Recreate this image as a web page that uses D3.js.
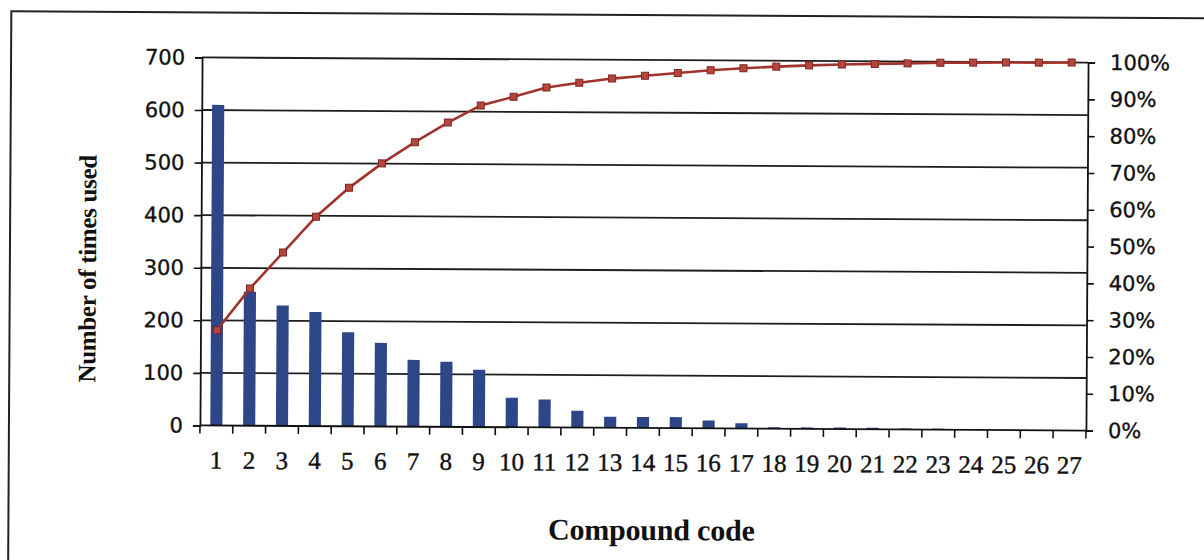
<!DOCTYPE html>
<html>
<head>
<meta charset="utf-8">
<script src="https://cdn.jsdelivr.net/npm/d3@7"></script>
<style>
  html, body { margin: 0; padding: 0; background: #fff; }
  svg { display: block; }
</style>
</head>
<body>
<svg id="chart" width="1204" height="560"></svg>
<script>
// Compound usage: counts per compound and cumulative share
const categories = ["1","2","3","4","5","6","7","8","9","10","11","12","13","14",
                    "15","16","17","18","19","20","21","22","23","24","25","26","27"];
const counts = [610, 255, 229, 217, 179, 159, 127, 124, 109, 56, 53, 32, 21, 21,
                21, 15, 10, 3, 3, 3, 3, 2, 2, 0, 0, 0, 0];
const cumulativePct = [25.9, 37.3, 47.1, 56.9, 64.8, 71.5, 77.3, 82.7, 87.4, 89.8, 92.4, 93.7, 94.9, 95.7,
                       96.5, 97.3, 97.9, 98.4, 98.8, 99.1, 99.3, 99.5, 99.7, 99.8, 99.9, 99.9, 100];
const leftTicks = [0, 100, 200, 300, 400, 500, 600, 700];
const rightTicks = [0, 10, 20, 30, 40, 50, 60, 70, 80, 90, 100];

const svg = d3.select("#chart");
// slight clockwise tilt of the whole figure
const root = svg.append("g").attr("transform", "rotate(0.33 644 245)");

// outer frame
root.append("rect")
  .attr("x", 10).attr("y", 15).attr("width", 1240).attr("height", 600)
  .attr("fill", "none").attr("stroke", "#222").attr("stroke-width", 2);

const plot = { left: 201, right: 1087, top: 60, bottom: 428 };

const x = d3.scaleBand().domain(categories).range([plot.left, plot.right]).padding(0);
const yL = d3.scaleLinear().domain([0, 700]).range([plot.bottom, plot.top]);
const yR = d3.scaleLinear().domain([0, 100]).range([plot.bottom, plot.top]);

// horizontal gridlines
root.append("g").selectAll("line")
  .data(leftTicks.filter(d => d > 0))
  .join("line")
  .attr("x1", plot.left).attr("x2", plot.right)
  .attr("y1", d => yL(d)).attr("y2", d => yL(d))
  .attr("stroke", "#1e1e1e").attr("stroke-width", 1.8);

// bars
const barW = x.bandwidth() * 0.37;
root.append("g").selectAll("rect")
  .data(counts)
  .join("rect")
  .attr("x", (d, i) => x(categories[i]) + (x.bandwidth() - barW) / 2)
  .attr("y", d => yL(d))
  .attr("width", barW)
  .attr("height", d => yL(0) - yL(d))
  .attr("fill", "#2c4688");

// tick label styling shared by both value axes
function styleValueAxis(g) {
  g.select(".domain").attr("stroke", "#111").attr("stroke-width", 1.8);
  g.selectAll(".tick line").attr("stroke", "#111").attr("stroke-width", 1.6);
  g.selectAll("text")
    .attr("font-family", "DejaVu Sans").attr("font-size", 21)
    .attr("fill", "#111").attr("stroke", "#111").attr("stroke-width", 0.35);
}

// left axis
root.append("g")
  .attr("transform", `translate(${plot.left},0)`)
  .call(d3.axisLeft(yL).tickValues(leftTicks).tickSize(7).tickPadding(10).tickFormat(d3.format("d")))
  .call(styleValueAxis);

// right axis
root.append("g")
  .attr("transform", `translate(${plot.right},0)`)
  .call(d3.axisRight(yR).tickValues(rightTicks).tickSize(7).tickPadding(15).tickFormat(d => d + "%"))
  .call(styleValueAxis);

// category axis: baseline, boundary ticks and centred labels
root.append("line")
  .attr("x1", plot.left).attr("x2", plot.right)
  .attr("y1", yL(0)).attr("y2", yL(0))
  .attr("stroke", "#111").attr("stroke-width", 1.8);

const boundaries = categories.map(c => x(c)).concat([x(categories[categories.length - 1]) + x.bandwidth()]);
root.append("g").selectAll("line")
  .data(boundaries)
  .join("line")
  .attr("x1", d => d).attr("x2", d => d)
  .attr("y1", yL(0)).attr("y2", yL(0) + 8)
  .attr("stroke", "#111").attr("stroke-width", 1.6);

root.append("g").selectAll("text")
  .data(categories)
  .join("text")
  .attr("x", d => x(d) + x.bandwidth() / 2)
  .attr("y", 471)
  .attr("text-anchor", "middle")
  .attr("font-family", "Liberation Serif")
  .attr("font-size", 25)
  .attr("fill", "#111").attr("stroke", "#111").attr("stroke-width", 0.4)
  .text(d => d);

// cumulative percentage line with square markers
const line = d3.line()
  .x((d, i) => x(categories[i]) + x.bandwidth() / 2)
  .y(d => yR(d));

root.append("path")
  .datum(cumulativePct)
  .attr("d", line)
  .attr("fill", "none")
  .attr("stroke", "#a1332d")
  .attr("stroke-width", 2.6);

const mk = 7;
root.append("g").selectAll("rect")
  .data(cumulativePct)
  .join("rect")
  .attr("x", (d, i) => x(categories[i]) + x.bandwidth() / 2 - mk / 2)
  .attr("y", d => yR(d) - mk / 2)
  .attr("width", mk).attr("height", mk)
  .attr("fill", "#b5463c")
  .attr("stroke", "#7e2622")
  .attr("stroke-width", 1);

// axis titles
root.append("text")
  .attr("x", 653).attr("y", 540)
  .attr("text-anchor", "middle")
  .attr("font-family", "Liberation Serif")
  .attr("font-weight", "bold")
  .attr("font-size", 30)
  .attr("letter-spacing", -0.2)
  .attr("fill", "#111")
  .text("Compound code");

root.append("text")
  .attr("transform", "translate(96,272) rotate(-90)")
  .attr("text-anchor", "middle")
  .attr("font-family", "Liberation Serif")
  .attr("font-weight", "bold")
  .attr("font-size", 25)
  .attr("letter-spacing", -0.3)
  .attr("fill", "#111")
  .text("Number of times used");
</script>
</body>
</html>
